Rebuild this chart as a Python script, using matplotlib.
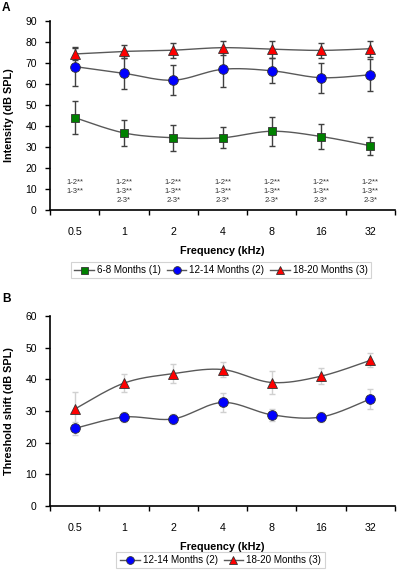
import numpy as np
import matplotlib
matplotlib.use("Agg")
import matplotlib.pyplot as plt
from matplotlib.lines import Line2D

plt.rcParams['font.family'] = ['Liberation Sans', 'DejaVu Sans']

# ---------------- data ----------------
freq_labels = ["0.5", "1", "2", "4", "8", "16", "32"]

# Panel A: intensity (dB SPL)
a_g1 = [44.0, 36.7, 34.4, 34.4, 37.5, 35.0, 30.6]
a_g1_err = [8.0, 6.0, 6.2, 5.0, 6.9, 6.1, 4.2]
a_g2 = [68.3, 65.1, 61.8, 67.0, 66.3, 63.0, 64.4]
a_g2_err = [9.3, 7.3, 7.1, 8.3, 6.0, 7.2, 7.5]
a_g3 = [74.3, 75.5, 76.1, 77.3, 76.6, 76.0, 76.8]
a_g3_err = [2.7, 3.3, 3.6, 3.3, 4.0, 3.7, 3.8]

# Panel B: threshold shift (dB SPL)
b_g2 = [24.5, 28.1, 27.5, 32.7, 28.8, 28.1, 33.8]
b_g2_err = [2.1, 1.5, 1.5, 3.0, 1.8, 1.5, 3.2]
b_g3 = [30.6, 38.8, 41.8, 43.1, 39.0, 41.0, 46.0]
b_g3_err = [5.3, 2.9, 3.0, 2.3, 3.7, 2.6, 2.2]

sig_labels = ["1-2**\n1-3**", "1-2**\n1-3**\n2-3*", "1-2**\n1-3**\n2-3*",
              "1-2**\n1-3**\n2-3*", "1-2**\n1-3**\n2-3*", "1-2**\n1-3**\n2-3*",
              "1-2**\n1-3**\n2-3*"]

series_names = ["6-8 Months (1)", "12-14 Months (2)", "18-20 Months (3)"]

# ---------------- helpers ----------------
def smooth(x, y, n=30):
    """Excel-like smoothed line (Catmull-Rom Bezier)."""
    x = np.asarray(x, float); y = np.asarray(y, float)
    P = np.column_stack([x, y])
    Pe = np.vstack([P[0], P, P[-1]])
    out = []
    t = np.linspace(0, 1, n)[:, None]
    for i in range(len(P) - 1):
        p0, p3 = Pe[i + 1], Pe[i + 2]
        c1 = p0 + (Pe[i + 2] - Pe[i]) / 6.0
        c2 = p3 - (Pe[i + 3] - Pe[i + 1]) / 6.0
        seg = ((1 - t) ** 3) * p0 + 3 * ((1 - t) ** 2) * t * c1 + 3 * (1 - t) * t ** 2 * c2 + t ** 3 * p3
        out.append(seg if i == 0 else seg[1:])
    s = np.vstack(out)
    return s[:, 0], s[:, 1]

styles = {
    1: dict(marker='s', mfc='#008000', ms=6.3),
    2: dict(marker='o', mfc='#0000ff', ms=7.0),
    3: dict(marker='^', mfc='#ff0000', ms=7.0),
}
line_col = '#595959'

def style_axes(ax, ymax):
    x = np.arange(len(freq_labels))
    ax.set_xlim(-0.5, len(freq_labels) - 0.5)
    ax.set_ylim(0, ymax)
    ax.set_yticks(np.arange(0, ymax + 1, 10))
    ax.set_xticks(np.arange(-0.5, len(freq_labels)), minor=False)
    ax.set_xticklabels([])
    ax.set_xticks(x, minor=True)
    ax.set_xticklabels(freq_labels, minor=True)
    ax.tick_params(axis='x', which='major', direction='out', length=3.5, width=1.0, color='black')
    ax.tick_params(axis='x', which='minor', length=0, pad=12, labelsize=7.7)
    ax.tick_params(axis='y', direction='out', length=3.5, width=1.0, pad=6, labelsize=7.5)
    for s in ['top', 'right']:
        ax.spines[s].set_visible(False)
    for s in ['left', 'bottom']:
        ax.spines[s].set_linewidth(1.2)
        ax.spines[s].set_color('black')

def plot_series(ax, vals, errs, key, ecolor):
    x = np.arange(len(vals))
    ax.errorbar(x, vals, yerr=errs, fmt='none', ecolor=ecolor, elinewidth=1.0,
                capsize=2.2, capthick=1.0, zorder=2)

def plot_line(ax, vals, key):
    x = np.arange(len(vals))
    sx, sy = smooth(x, vals)
    ax.plot(sx, sy, color=line_col, lw=1.0, zorder=3)
    st = styles[key]
    ax.plot(x, vals, linestyle='none', marker=st['marker'], ms=st['ms'],
            mfc=st['mfc'], mec='#333333', mew=0.6, zorder=4)

def handle(key):
    st = styles[key]
    return Line2D([], [], color=line_col, lw=1.0, marker=st['marker'],
                  ms=st['ms'] * 0.8, mfc=st['mfc'], mec='#333333', mew=0.6)

# ---------------- figure ----------------
fig = plt.figure(figsize=(3.97, 5.77), dpi=100)
W, H = 397.0, 577.0

axA = fig.add_axes([50 / W, 1 - 210 / H, 345 / W, 189 / H])
style_axes(axA, 90)
for vals, errs, key in [(a_g1, a_g1_err, 1), (a_g2, a_g2_err, 2), (a_g3, a_g3_err, 3)]:
    plot_series(axA, vals, errs, key, '#404040')
for vals, key in [(a_g1, 1), (a_g2, 2), (a_g3, 3)]:
    plot_line(axA, vals, key)

for i, lab in enumerate(sig_labels):
    axA.text(i, 14.8, lab, ha='center', va='top', fontsize=5.5,
             color='#333333', linespacing=1.45)

axA.set_ylabel("Intensity (dB SPL)", fontsize=7.8, fontweight='bold')
axA.yaxis.set_label_coords(-0.105, 0.5)
axA.set_xlabel("Frequency (kHz)", fontsize=7.8, fontweight='bold')
axA.xaxis.set_label_coords(0.5, -0.19)

legA = fig.legend([handle(1), handle(2), handle(3)], series_names,
                  loc='center', bbox_to_anchor=(221 / W, 1 - 270 / H), ncol=3,
                  fontsize=7.1, frameon=True, fancybox=False, edgecolor='#c8c8c8',
                  handlelength=2.0, handletextpad=0.3, columnspacing=0.6,
                  borderpad=0.35, borderaxespad=0)
legA.get_frame().set_linewidth(0.8)

axB = fig.add_axes([50 / W, 1 - 506 / H, 345 / W, 190 / H])
style_axes(axB, 60)
for vals, errs, key in [(b_g2, b_g2_err, 2), (b_g3, b_g3_err, 3)]:
    plot_series(axB, vals, errs, key, '#d0d0d0')
for vals, key in [(b_g2, 2), (b_g3, 3)]:
    plot_line(axB, vals, key)

axB.set_ylabel("Threshold shift (dB SPL)", fontsize=7.8, fontweight='bold')
axB.yaxis.set_label_coords(-0.105, 0.5)
axB.set_xlabel("Frequency (kHz)", fontsize=7.8, fontweight='bold')
axB.xaxis.set_label_coords(0.5, -0.187)

legB = fig.legend([handle(2), handle(3)], series_names[1:],
                  loc='center', bbox_to_anchor=(220.5 / W, 1 - 560 / H), ncol=2,
                  fontsize=7.1, frameon=True, fancybox=False, edgecolor='#c8c8c8',
                  handlelength=2.0, handletextpad=0.3, columnspacing=0.6,
                  borderpad=0.35, borderaxespad=0)
legB.get_frame().set_linewidth(0.8)

fig.text(2 / W, 1 - 2 / H, "A", fontsize=8.6, fontweight='bold', ha='left', va='top')
fig.text(2 / W, 1 - 293 / H, "B", fontsize=8.6, fontweight='bold', ha='left', va='top')

fig.savefig("out.png", dpi=100)
